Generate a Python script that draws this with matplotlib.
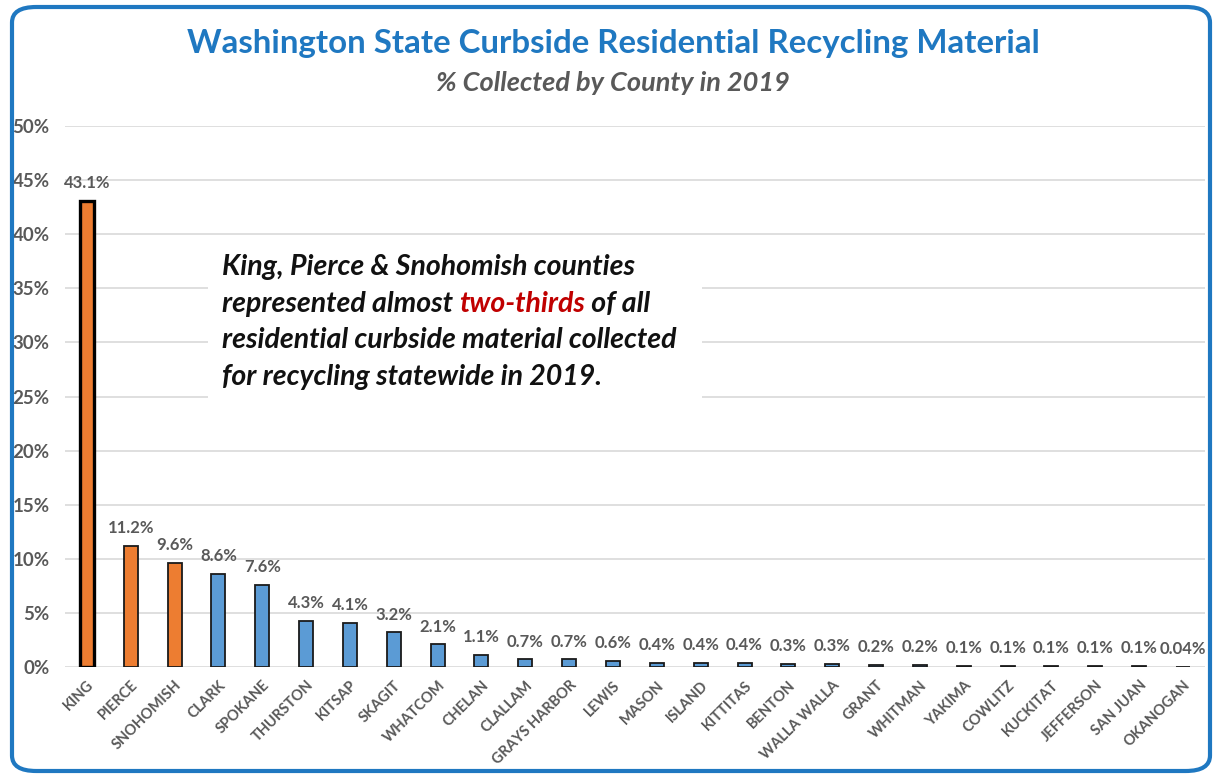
import numpy as np
import matplotlib.pyplot as plt
from matplotlib.patches import FancyBboxPatch, Rectangle

# Share of curbside residential recycling material by county, 2019 (%)
counties = ['KING', 'PIERCE', 'SNOHOMISH', 'CLARK', 'SPOKANE', 'THURSTON', 'KITSAP',
            'SKAGIT', 'WHATCOM', 'CHELAN', 'CLALLAM', 'GRAYS HARBOR', 'LEWIS', 'MASON',
            'ISLAND', 'KITTITAS', 'BENTON', 'WALLA WALLA', 'GRANT', 'WHITMAN', 'YAKIMA',
            'COWLITZ', 'KUCKITAT', 'JEFFERSON', 'SAN JUAN', 'OKANOGAN']
share = [43.1, 11.2, 9.6, 8.6, 7.6, 4.3, 4.1, 3.2, 2.1, 1.1, 0.7, 0.7, 0.6, 0.4,
         0.4, 0.4, 0.3, 0.3, 0.2, 0.2, 0.1, 0.1, 0.1, 0.1, 0.1, 0.04]
value_labels = ['43.1%', '11.2%', '9.6%', '8.6%', '7.6%', '4.3%', '4.1%', '3.2%', '2.1%',
                '1.1%', '0.7%', '0.7%', '0.6%', '0.4%', '0.4%', '0.4%', '0.3%', '0.3%',
                '0.2%', '0.2%', '0.1%', '0.1%', '0.1%', '0.1%', '0.1%', '0.04%']
top3 = ['KING', 'PIERCE', 'SNOHOMISH']
yticks = [0, 5, 10, 15, 20, 25, 30, 35, 40, 45, 50]

orange = '#ED7D31'
blue = '#5B9BD5'
grey = '#595959'
font = ['Lato', 'DejaVu Sans']

fig = plt.figure(figsize=(12.14, 7.74), dpi=100)
ax = fig.add_axes([0.0535, 0.1382, 0.939, 0.699])

x = np.arange(len(counties))
colors = [orange if c in top3 else blue for c in counties]
bars = ax.bar(x, share, width=0.32, color=colors, edgecolor='#1a1a1a', linewidth=1.3, zorder=3)
bars[0].set_linewidth(2.4)
bars[0].set_edgecolor('black')

for xi, v, lab in zip(x, share, value_labels):
    ax.annotate(lab, (xi, v), xytext=(0, 7), textcoords='offset points',
                ha='center', va='bottom', fontsize=12, fontweight='bold',
                color=grey, family=font)

ax.set_xlim(-0.5, len(counties) - 0.5)
ax.set_ylim(0, 50)
ax.set_yticks(yticks)
ax.set_yticklabels(['%d%%' % t for t in yticks], fontsize=13.5, fontweight='bold',
                   color=grey, family=font)
ax.set_xticks(x)
ax.set_xticklabels(counties, rotation=45, ha='right', rotation_mode='anchor',
                   fontsize=10.5, fontweight='bold', color=grey, family=font)
ax.tick_params(length=0)
ax.tick_params(axis='y', pad=11)
ax.tick_params(axis='x', pad=8)
ax.grid(axis='y', color='#d9d9d9', linewidth=1.2, zorder=0)
ax.set_axisbelow(True)
for s in ax.spines.values():
    s.set_visible(False)

# Titles
fig.text(0.505, 0.944, 'Washington State Curbside Residential Recycling Material',
         ha='center', va='center', fontsize=23.8, fontweight='bold', color='#1F78C1', family=font)
fig.text(0.505, 0.893, '% Collected by County in 2019', ha='center', va='center',
         fontsize=19.5, fontweight='bold', style='italic', color=grey, family=font)

# Callout box with text
fig.add_artist(Rectangle((208 / 1214, 1 - 407 / 774), 494 / 1214, 164 / 774,
                         transform=fig.transFigure, facecolor='white', edgecolor='none', zorder=5))
tkw = dict(fontsize=20.5, fontweight='bold', style='italic', color='#111111', family=font, zorder=6)
fig.text(222 / 1214, 1 - 267 / 774, 'King, Pierce & Snohomish counties', va='center', **tkw)
t1 = fig.text(222 / 1214, 1 - 304 / 774, 'represented almost ', va='center', **tkw)
t2 = fig.text(0, 0, 'two-thirds', **dict(tkw, color='#C00000'))
fig.text(222 / 1214, 1 - 340 / 774, 'residential curbside material collected', va='center', **tkw)
fig.text(222 / 1214, 1 - 377 / 774, 'for recycling statewide in 2019.', va='center', **tkw)

fig.canvas.draw()
r = fig.canvas.get_renderer()
bb1 = t1.get_window_extent(r).transformed(fig.transFigure.inverted())
t2.set_position((bb1.x1, 1 - 304 / 774))
t2.set_va('center')
fig.canvas.draw()
bb2 = t2.get_window_extent(r).transformed(fig.transFigure.inverted())
fig.text(bb2.x1, 1 - 304 / 774, ' of all', va='center', **tkw)

# Rounded blue frame
fig.add_artist(FancyBboxPatch((12 / 1214, 3 / 774), 1198 / 1214, 764 / 774,
                              boxstyle='round,pad=0,rounding_size=0.02',
                              transform=fig.transFigure, facecolor='none',
                              edgecolor='#1F78C1', linewidth=3, zorder=10))

fig.savefig('out.png', dpi=100)
